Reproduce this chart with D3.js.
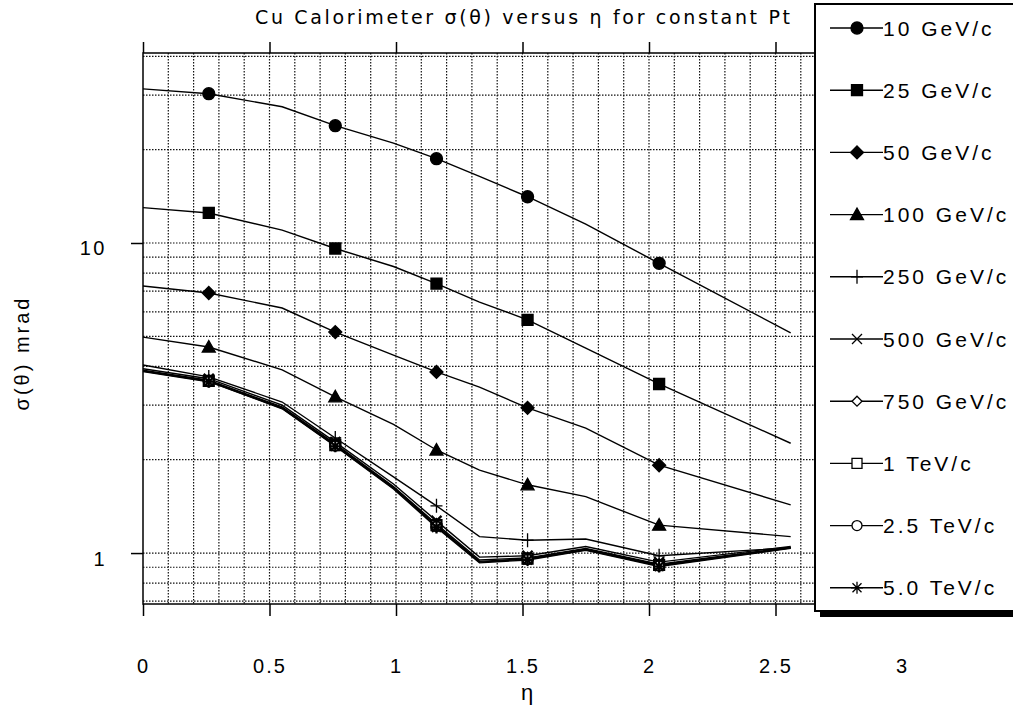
<!DOCTYPE html>
<html>
<head>
<meta charset="utf-8">
<script src="https://cdn.jsdelivr.net/npm/d3@7"></script>
<style>
  body { margin: 0; background: #fff; }
</style>
</head>
<body>
<div class="chart"></div>
<script>
var totalWidth = 1013;
var totalHeight = 710;

var margin = { top: 53, left: 143, bottom: 106, right: 111 };
var width = totalWidth - margin.left - margin.right;   // 0 .. 3 in eta
var height = totalHeight - margin.top - margin.bottom;

// DATA
var etaKnots = [0, 0.26, 0.55, 0.76, 0.99, 1.16, 1.33, 1.52, 1.75, 2.04, 2.56];
var markerKnots = [1, 3, 5, 7, 9];

var seriesNames = ["10 GeV/c", "25 GeV/c", "50 GeV/c", "100 GeV/c", "250 GeV/c",
                   "500 GeV/c", "750 GeV/c", "1 TeV/c", "2.5 TeV/c", "5.0 TeV/c"];
var seriesSymbols = ["circle", "square", "diamond", "triangle", "plus",
                     "cross", "openDiamond", "openSquare", "openCircle", "asterisk"];

var sigma10GeV  = [31.4, 30.3, 27.5, 23.9, 21.0, 18.7, 16.4, 14.1, 11.5, 8.6, 5.13];
var sigma25GeV  = [13.0, 12.5, 11.0, 9.6, 8.4, 7.4, 6.45, 5.65, 4.58, 3.51, 2.26];
var sigma50GeV  = [7.27, 6.9, 6.17, 5.16, 4.35, 3.84, 3.43, 2.94, 2.53, 1.92, 1.43];
var sigma100GeV = [4.97, 4.62, 3.9, 3.19, 2.6, 2.15, 1.85, 1.66, 1.52, 1.23, 1.13];
var sigma250GeV = [4.04, 3.70, 3.07, 2.35, 1.76, 1.42, 1.13, 1.10, 1.11, 0.98, 1.04];
var sigma500GeV = [3.93, 3.65, 3.0, 2.28, 1.67, 1.27, 0.97, 0.98, 1.05, 0.935, 1.05];
var sigma750GeV = [3.89, 3.61, 2.96, 2.25, 1.64, 1.24, 0.95, 0.965, 1.035, 0.92, 1.045];
var sigma1TeV   = [3.87, 3.59, 2.94, 2.23, 1.63, 1.23, 0.94, 0.96, 1.03, 0.915, 1.04];
var sigma2p5TeV = [3.86, 3.58, 2.93, 2.22, 1.62, 1.22, 0.935, 0.955, 1.025, 0.91, 1.04];
var sigma5TeV   = [3.85, 3.57, 2.92, 2.21, 1.61, 1.21, 0.93, 0.95, 1.02, 0.905, 1.035];

var allSigma = [sigma10GeV, sigma25GeV, sigma50GeV, sigma100GeV, sigma250GeV,
                sigma500GeV, sigma750GeV, sigma1TeV, sigma2p5TeV, sigma5TeV];

var xTickValues = [0, 0.5, 1, 1.5, 2, 2.5, 3];
var yTickValues = [1, 10];
var yGridValues = [0.7, 0.8, 0.9, 1, 2, 3, 4, 5, 6, 7, 8, 9, 10, 20, 30, 40];
var xGridValues = d3.range(1, 30).map(function(i) { return i / 10; });

var series = seriesNames.map(function(name, i) {
  return {
    name: name,
    symbol: seriesSymbols[i],
    points: etaKnots.map(function(eta, k) { return { eta: eta, sigma: allSigma[i][k] }; })
  };
});

// SCALES
var xScale = d3.scaleLinear().domain([0, 3]).range([0, width]);
var yScale = d3.scaleLog().domain([0.685, 41]).range([height, 0]);

// marker shapes, centred on 0,0
function markerPath(kind) {
  switch (kind) {
    case "circle": return d3.symbol().type(d3.symbolCircle).size(Math.PI * 36)();
    case "square": return "M-5.5,-5.5H5.5V5.5H-5.5Z";
    case "diamond": return "M0,-6.5L6.5,0L0,6.5L-6.5,0Z";
    case "triangle": return "M0,-6.5L6.5,5L-6.5,5Z";
    case "plus": return "M-6,0H6M0,-7V7";
    case "cross": return "M-5,-5L5,5M-5,5L5,-5";
    case "openDiamond": return "M0,-5L5,0L0,5L-5,0Z";
    case "openSquare": return "M-5,-5H5V5H-5Z";
    case "openCircle": return d3.symbol().type(d3.symbolCircle).size(Math.PI * 25)();
    case "asterisk": return "M-6,0H6M0,-6V6M-4.5,-4.5L4.5,4.5M-4.5,4.5L4.5,-4.5";
  }
}
function markerFill(kind) {
  if (kind == "circle" || kind == "square" || kind == "diamond" || kind == "triangle") return "#000";
  if (kind == "openDiamond" || kind == "openSquare" || kind == "openCircle") return "#fff";
  return "none";
}

var svg = d3.select(".chart")
  .append("svg")
  .attr("width", totalWidth)
  .attr("height", totalHeight)
  .style("font-family", "'Liberation Sans', Arial, sans-serif");

var mainGroup = svg.append("g")
  .attr("transform", "translate(" + margin.left + "," + margin.top + ")");

// GRID
var gridGroup = mainGroup.append("g").attr("id", "grid")
  .attr("stroke", "#111")
  .attr("stroke-width", 1.2)
  .attr("stroke-dasharray", "1.5,1.5");

gridGroup.selectAll(".vgrid")
  .data(xGridValues)
  .enter().append("line")
  .attr("x1", function(d) { return xScale(d); })
  .attr("x2", function(d) { return xScale(d); })
  .attr("y1", 0)
  .attr("y2", height);

gridGroup.selectAll(".hgrid")
  .data(yGridValues)
  .enter().append("line")
  .attr("x1", 0)
  .attr("x2", width)
  .attr("y1", function(d) { return yScale(d); })
  .attr("y2", function(d) { return yScale(d); });

// FRAME
mainGroup.append("rect")
  .attr("width", width)
  .attr("height", height)
  .attr("fill", "none")
  .attr("stroke", "#000")
  .attr("stroke-width", 1.5);

// AXES
var xAxis = d3.axisBottom(xScale).tickValues(xTickValues).tickSize(12).tickFormat(d3.format("~g"));
var xAxisTop = d3.axisTop(xScale).tickValues(xTickValues).tickSize(11).tickFormat("");
var yAxis = d3.axisLeft(yScale).tickValues(yTickValues).tickSize(12).tickFormat(d3.format("~g"));

mainGroup.append("g")
  .attr("transform", "translate(0," + height + ")")
  .call(xAxis)
  .call(function(g) {
    g.select(".domain").remove();
    g.selectAll(".tick line").attr("stroke", "#000").attr("stroke-width", 1.5);
    g.selectAll(".tick text")
      .attr("y", 69).attr("dy", 0)
      .attr("fill", "#000")
      .style("font-size", "20px")
      .style("letter-spacing", "2px")
      .style("font-family", "'Liberation Sans', Arial, sans-serif");
  });

mainGroup.append("g")
  .call(xAxisTop)
  .call(function(g) {
    g.select(".domain").remove();
    g.selectAll(".tick line").attr("stroke", "#000").attr("stroke-width", 1.5);
  });

mainGroup.append("g")
  .call(yAxis)
  .call(function(g) {
    g.select(".domain").remove();
    g.selectAll(".tick line").attr("stroke", "#000").attr("stroke-width", 1.5);
    g.selectAll(".tick text")
      .attr("x", -36).attr("y", 12).attr("dy", 0)
      .attr("fill", "#000")
      .style("font-size", "20px")
      .style("letter-spacing", "2.5px")
      .style("font-family", "'Liberation Sans', Arial, sans-serif");
  });

// LINES
var line = d3.line()
  .x(function(d) { return xScale(d.eta); })
  .y(function(d) { return yScale(d.sigma); });

var seriesGroup = mainGroup.append("g").attr("id", "series");

seriesGroup.selectAll("path.line")
  .data(series)
  .enter().append("path")
  .attr("class", "line")
  .attr("d", function(d) { return line(d.points); })
  .attr("fill", "none")
  .attr("stroke", "#000")
  .attr("stroke-width", 1.4);

// MARKERS – the five high-Pt series pile up into one dark blob
series.forEach(function(s, i) {
  var pts = markerKnots.map(function(k) { return s.points[k]; });
  seriesGroup.append("g")
    .selectAll("path")
    .data(pts)
    .enter().append("path")
    .attr("transform", function(d) { return "translate(" + xScale(d.eta) + "," + yScale(d.sigma) + ")"; })
    .attr("d", markerPath(s.symbol))
    .attr("fill", markerFill(s.symbol))
    .attr("stroke", "#000")
    .attr("stroke-width", i >= 5 ? 2.2 : 1.3);
});

// TITLES
svg.append("text")
  .attr("x", 255)
  .attr("y", 24)
  .attr("textLength", 535)
  .attr("lengthAdjust", "spacing")
  .style("font-family", "'DejaVu Sans', sans-serif")
  .style("font-size", "19px")
  .text("Cu Calorimeter σ(θ) versus η for constant Pt");

svg.append("text")
  .attr("x", 527)
  .attr("y", 700)
  .attr("text-anchor", "middle")
  .style("font-size", "22px")
  .text("η");

svg.append("text")
  .attr("transform", "translate(29,353) rotate(-90)")
  .attr("text-anchor", "middle")
  .style("font-size", "20px")
  .style("letter-spacing", "3px")
  .text("σ(θ) mrad");

// LEGEND
var legendX = 815, legendY = 4;
var legend = svg.append("g").attr("id", "legend");

legend.append("rect")
  .attr("x", legendX + 5).attr("y", legendY + 6)
  .attr("width", 300).attr("height", 607)
  .attr("fill", "#000");

legend.append("rect")
  .attr("x", legendX).attr("y", legendY)
  .attr("width", 300).attr("height", 607)
  .attr("fill", "#fff")
  .attr("stroke", "#000")
  .attr("stroke-width", 2);

var legendItems = legend.selectAll(".item")
  .data(series)
  .enter().append("g")
  .attr("class", "item")
  .attr("transform", function(d, i) { return "translate(" + legendX + "," + (28 + i * 62.2) + ")"; });

legendItems.append("line")
  .attr("x1", 15).attr("x2", 68)
  .attr("stroke", "#000").attr("stroke-width", 1.4);

legendItems.append("path")
  .attr("transform", "translate(42,0)")
  .attr("d", function(d) { return markerPath(d.symbol); })
  .attr("fill", function(d) { return markerFill(d.symbol); })
  .attr("stroke", "#000")
  .attr("stroke-width", 1.3);

legendItems.append("text")
  .attr("x", 68)
  .attr("dy", "0.36em")
  .style("font-size", "21px")
  .style("letter-spacing", "3px")
  .text(function(d) { return d.name; });
</script>
</body>
</html>
